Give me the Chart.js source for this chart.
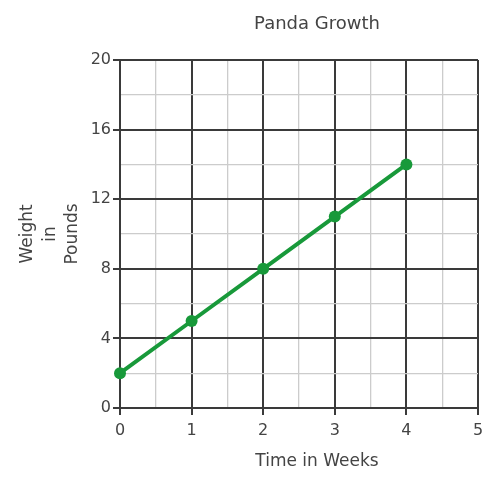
<!DOCTYPE html>
<html>
<head>
<meta charset="utf-8">
<script src="https://cdn.jsdelivr.net/npm/chart.js@4/dist/chart.umd.min.js"></script>
<style>
html,body{margin:0;padding:0;background:#fff;}
#wrap{width:498px;height:487px;position:relative;}
</style>
</head>
<body>
<div id="wrap"><canvas id="c" width="498" height="487"></canvas></div>
<script>
const chartTitle = 'Panda Growth';
const xTitle = 'Time in Weeks';
const yTitle = ['Weight', 'in', 'Pounds'];
const weeks = [0, 1, 2, 3, 4];
const weights = [2, 5, 8, 11, 14];
const xRange = [0, 5];
const yRange = [0, 20];

const FONT = "'DejaVu Sans', sans-serif";
const TEXT = '#444444';
const MAJOR = '#3a3a3a';
const MINOR = '#cccccc';
const GREEN = '#18993a';

const titleShift = {
  id: 'titleShift',
  afterLayout(chart) {
    const t = chart.titleBlock;
    if (t) { t.left += 18; t.right += 18; }
  },
  afterDraw(chart) {
    const ctx = chart.ctx;
    const a = chart.chartArea;
    ctx.save();
    ctx.font = '17px ' + FONT;
    ctx.fillStyle = TEXT;
    ctx.textAlign = 'center';
    ctx.textBaseline = 'middle';
    ctx.fillText(xTitle, (a.left + a.right) / 2 + 18, 462);
    ctx.restore();
  }
};

new Chart(document.getElementById('c'), {
  type: 'line',
  data: {
    datasets: [{
      data: weeks.map((w, i) => ({ x: w, y: weights[i] })),
      borderColor: GREEN,
      backgroundColor: GREEN,
      borderWidth: 4,
      pointRadius: 6,
      pointBackgroundColor: GREEN,
      pointBorderWidth: 0,
      tension: 0,
      clip: false
    }]
  },
  options: {
    responsive: false,
    animation: false,
    layout: { padding: { left: 0, right: 20, top: 0, bottom: 0 } },
    plugins: {
      legend: { display: false },
      tooltip: { enabled: false },
      title: {
        display: true,
        text: chartTitle,
        fullSize: false,
        color: TEXT,
        font: { family: FONT, size: 18, weight: 'normal', lineHeight: 1.2 },
        padding: { top: 14, bottom: 24.4 }
      }
    },
    scales: {
      x: {
        type: 'linear',
        min: xRange[0],
        max: xRange[1],
        afterFit(s) { s.height = 79; },
        ticks: {
          stepSize: 0.5,
          autoSkip: false,
          maxRotation: 0,
          padding: 6,
          color: TEXT,
          font: { family: FONT, size: 16 },
          callback: v => Number.isInteger(v) ? String(v) : ''
        },
        grid: {
          color: c => (c.tick && Number.isInteger(c.tick.value)) ? MAJOR : MINOR,
          lineWidth: c => (c.tick && Number.isInteger(c.tick.value)) ? 2 : 1.3,
          tickColor: c => (c.tick && Number.isInteger(c.tick.value)) ? MAJOR : 'rgba(0,0,0,0)',
          tickLength: 7
        },
        border: { color: MAJOR, width: 2 }
      },
      y: {
        type: 'linear',
        min: yRange[0],
        max: yRange[1],
        afterFit(s) { s.width = 120; },
        ticks: {
          stepSize: 2,
          autoSkip: false,
          padding: 2,
          color: TEXT,
          font: { family: FONT, size: 16 },
          callback: v => (v % 4 === 0) ? String(v) : ''
        },
        grid: {
          color: c => (c.tick && c.tick.value % 4 === 0) ? MAJOR : MINOR,
          lineWidth: c => (c.tick && c.tick.value % 4 === 0) ? 2 : 1.3,
          tickColor: c => (c.tick && c.tick.value % 4 === 0) ? MAJOR : 'rgba(0,0,0,0)',
          tickLength: 7
        },
        border: { color: MAJOR, width: 2 },
        title: {
          display: true,
          text: yTitle,
          color: TEXT,
          font: { family: FONT, size: 17, lineHeight: 1.3 },
          padding: { top: 17, bottom: 0 }
        }
      }
    }
  },
  plugins: [titleShift]
});
</script>
</body>
</html>
